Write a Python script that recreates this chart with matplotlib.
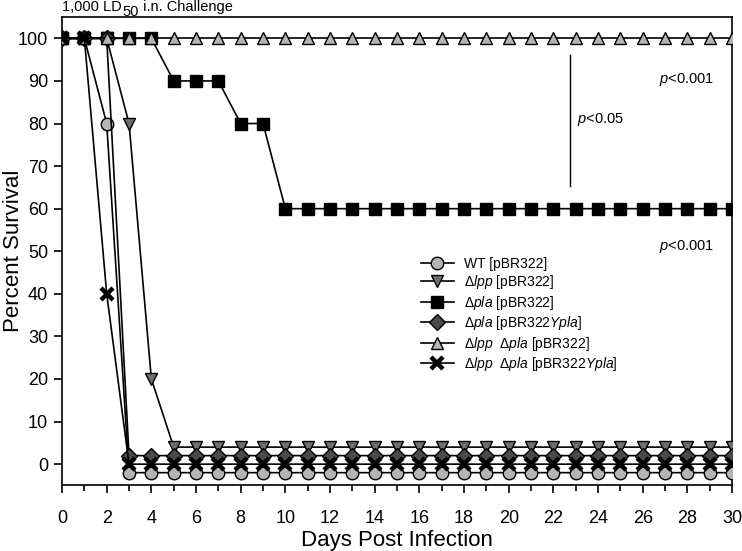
import matplotlib.pyplot as plt
from matplotlib.ticker import MultipleLocator

plt.rcParams["font.family"] = ["Liberation Sans", "DejaVu Sans"]
plt.rcParams["mathtext.fontset"] = "custom"
plt.rcParams["mathtext.rm"] = "Liberation Sans"
plt.rcParams["mathtext.it"] = "Liberation Sans:italic"

days = list(range(31))

# values (plotted with small offsets near 0 as in the original)
wt = [100, 100, 80] + [-2] * 28
lpp = [100, 100, 100, 80, 20] + [4] * 26
pla = [100] * 5 + [90] * 3 + [80] * 2 + [60] * 21
pla_ypla = [100, 100, 100] + [2] * 28
lpp_pla = [100] * 31
lpp_pla_ypla = [100, 100, 40] + [0] * 28

series = [
    (wt, "o", "#b4b4b4", r"WT [pBR322]"),
    (lpp, "v", "#6e6e6e", r"$\Delta\mathit{lpp}$ [pBR322]"),
    (pla, "s", "black", r"$\Delta\mathit{pla}$ [pBR322]"),
    (pla_ypla, "D", "#4a4a4a", r"$\Delta\mathit{pla}$ [pBR322$\mathit{Ypla}$]"),
    (lpp_pla, "^", "#b4b4b4", r"$\Delta\mathit{lpp}$  $\Delta\mathit{pla}$ [pBR322]"),
    (lpp_pla_ypla, "X", "black", r"$\Delta\mathit{lpp}$  $\Delta\mathit{pla}$ [pBR322$\mathit{Ypla}$]"),
]


def draw():
    fig = plt.figure(figsize=(7.42, 5.51), dpi=100)
    ax = fig.add_axes([0.0836, 0.119, 0.903, 0.850])
    for vals, mk, col, lab in series:
        ms = 8 if mk == "D" else 9
        if mk == "X":
            ax.plot(days, vals, color="black", lw=1.2, marker="x", ms=8,
                    mew=3.2, label=lab, zorder=3)
        else:
            ax.plot(days, vals, color="black", lw=1.2, marker=mk, ms=ms,
                    mfc=col, mec="black", mew=1.0, label=lab, zorder=3)

    ax.set_xlim(0, 30)
    ax.set_ylim(-5, 105)
    ax.xaxis.set_major_locator(MultipleLocator(2))
    ax.xaxis.set_minor_locator(MultipleLocator(1))
    ax.yaxis.set_major_locator(MultipleLocator(10))
    ax.tick_params(axis="both", which="major", direction="out", length=6,
                   labelsize=13, width=1.2, pad=12)
    ax.tick_params(axis="x", which="minor", direction="out", length=4, width=1.2)
    ax.tick_params(axis="y", pad=4)
    for s in ax.spines.values():
        s.set_linewidth(1.2)

    ax.set_xlabel("Days Post Infection", fontsize=16, labelpad=2)
    ax.set_ylabel("Percent Survival", fontsize=16)
    ax.yaxis.set_label_coords(-0.057, 0.5)

    # heading with a full-size subscript, as in the original
    t1 = ax.text(0, 106.5, "1,000 LD", fontsize=10.5, ha="left", va="baseline",
                 clip_on=False)
    t2 = ax.annotate("50", xy=(1, 0), xycoords=t1, xytext=(0.5, -3.5),
                     textcoords="offset points", fontsize=10.5, va="bottom")
    ax.annotate(" i.n. Challenge", xy=(1, 0), xycoords=t2, xytext=(0, 3.5),
                textcoords="offset points", fontsize=10.5, va="bottom")

    ax.plot([22.75, 22.75], [65.3, 96.2], color="black", lw=1)
    ax.text(23.05, 81, r"$\mathit{p}$<0.05", fontsize=10.5, va="center")
    ax.text(26.75, 90.4, r"$\mathit{p}$<0.001", fontsize=10.5, va="center")
    ax.text(26.75, 51.1, r"$\mathit{p}$<0.001", fontsize=10.5, va="center")

    ax.legend(loc="upper left", bbox_to_anchor=(0.527, 0.50), frameon=False,
              fontsize=10, handlelength=2.4, handletextpad=0.7,
              labelspacing=0.18, borderaxespad=0)
    fig.savefig("out.png", dpi=100)


if __name__ == "__main__":
    draw()
